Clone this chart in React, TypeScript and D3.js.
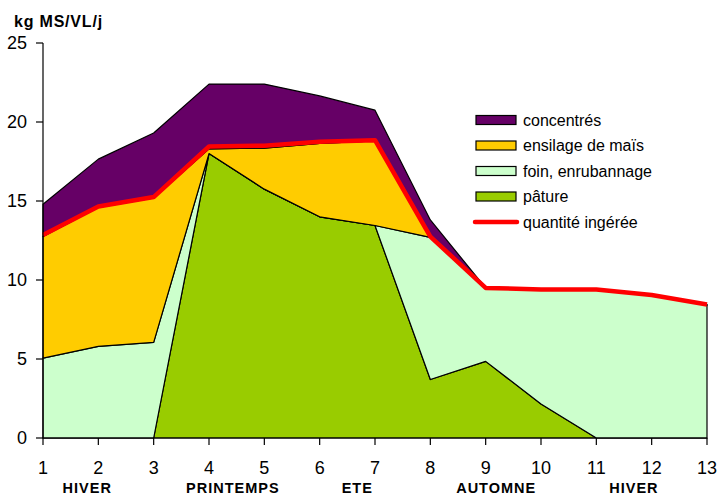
import React from "react";
import * as d3 from "d3";

// weeks / periods on the x axis
const periods = [1, 2, 3, 4, 5, 6, 7, 8, 9, 10, 11, 12, 13];

// stacked series, kg MS/VL/j (bottom to top)
const pature = [0, 0, 0, 18, 15.75, 14, 13.45, 3.7, 4.85, 2.15, 0, 0, 0];
const foin = [5.05, 5.8, 6.05, 0, 0, 0, 0, 9.0, 4.65, 7.2, 9.37, 9.05, 8.42];
const ensilage = [7.7, 8.8, 9.15, 0.3, 2.6, 4.65, 5.35, 0, 0, 0, 0, 0, 0];
const concentres = [2.05, 3.05, 4.1, 4.1, 4.05, 3.0, 1.95, 1.1, 0, 0, 0, 0, 0];

// line
const quantite = [12.85, 14.65, 15.25, 18.45, 18.5, 18.75, 18.85, 12.75, 9.5, 9.4, 9.4, 9.05, 8.45];

const yTicks = [0, 5, 10, 15, 20, 25];

const seasons = ["HIVER", "PRINTEMPS", "ETE", "AUTOMNE", "HIVER"];
const seasonPos = [1.8, 4.43, 6.68, 9.19, 11.68];

const keys = ["pature", "foin", "ensilage", "concentres"];
const labels: Record<string, string> = {
  concentres: "concentrés",
  ensilage: "ensilage de maïs",
  foin: "foin, enrubannage",
  pature: "pâture",
};
const colors: Record<string, string> = {
  pature: "#99CC00",
  foin: "#CCFFCC",
  ensilage: "#FFCC00",
  concentres: "#660066",
};

const W = 717;
const H = 495;
const font = "'Liberation Sans', Arial, sans-serif";

export default function App() {
  const x = d3.scaleLinear().domain([1, 13]).range([43, 707]);
  const y = d3.scaleLinear().domain([0, 25]).range([438, 43]);

  const rows = periods.map((p, i) => ({
    p,
    pature: pature[i],
    foin: foin[i],
    ensilage: ensilage[i],
    concentres: concentres[i],
  }));
  const stack = d3.stack<any>().keys(keys)(rows);

  const area = d3
    .area<any>()
    .x((d) => x(d.data.p))
    .y0((d) => y(d[0]))
    .y1((d) => y(d[1]));

  const line = d3
    .line<number>()
    .x((_, i) => x(periods[i]))
    .y((d) => y(d));

  const legendItems = ["concentres", "ensilage", "foin", "pature"];

  return (
    <svg
      width={W}
      height={H}
      style={{ position: "absolute", left: 0, top: 0, background: "#fff" }}
      fontFamily={font}
    >
      {stack.map((s) => (
        <path
          key={s.key}
          d={area(s) || ""}
          fill={colors[s.key]}
          stroke="#000"
          strokeWidth={1.2}
          strokeLinejoin="round"
        />
      ))}
      <path
        d={line(quantite) || ""}
        fill="none"
        stroke="#FF0000"
        strokeWidth={4.5}
        strokeLinejoin="round"
      />

      {/* y axis */}
      <line x1={43} x2={43} y1={y(25)} y2={y(0)} stroke="#000" strokeWidth={1.2} />
      {yTicks.map((t) => (
        <g key={t}>
          <line x1={36} x2={43} y1={y(t)} y2={y(t)} stroke="#000" strokeWidth={1.2} />
          <text x={27} y={y(t)} dy="0.36em" textAnchor="end" fontSize={18}>
            {t}
          </text>
        </g>
      ))}

      {/* x axis */}
      <line x1={x(1)} x2={x(13)} y1={y(0)} y2={y(0)} stroke="#000" strokeWidth={1.2} />
      {periods.map((p) => (
        <g key={p}>
          <line x1={x(p)} x2={x(p)} y1={y(0)} y2={y(0) + 7} stroke="#000" strokeWidth={1.2} />
          <text x={x(p)} y={468} dy="0.36em" textAnchor="middle" fontSize={18}>
            {p}
          </text>
        </g>
      ))}
      {seasons.map((s, i) => (
        <text
          key={i}
          x={x(seasonPos[i])}
          y={488}
          dy="0.35em"
          textAnchor="middle"
          fontSize={14.5}
          fontWeight="bold"
          letterSpacing={1}
        >
          {s}
        </text>
      ))}

      <text x={14} y={21} dy="0.35em" fontSize={16} fontWeight="bold" letterSpacing={0.8}>
        kg MS/VL/j
      </text>

      {/* legend */}
      {legendItems.map((k, i) => (
        <g key={k} transform={`translate(476,${120 + i * 25.5})`}>
          <rect x={0} y={-4.5} width={40} height={9} fill={colors[k]} stroke="#000" strokeWidth={1.2} />
          <text x={47} y={0} dy="0.35em" fontSize={16}>
            {labels[k]}
          </text>
        </g>
      ))}
      <g transform="translate(476,222)">
        <line x1={-1} x2={41} y1={0} y2={0} stroke="#FF0000" strokeWidth={4.5} strokeLinecap="round" />
        <text x={47} y={0} dy="0.35em" fontSize={16}>
          quantité ingérée
        </text>
      </g>
    </svg>
  );
}
